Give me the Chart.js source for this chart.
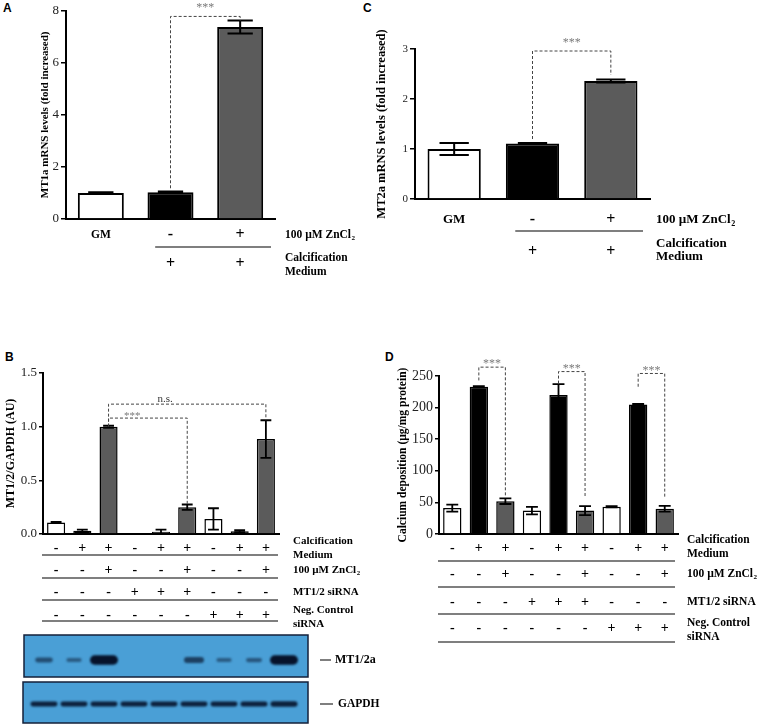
<!DOCTYPE html>
<html>
<head>
<meta charset="utf-8">
<title>MT1/2 expression and calcification</title>
<script src="https://cdn.jsdelivr.net/npm/chart.js@4.4.1/dist/chart.umd.min.js"></script>
<style>
  body { margin: 0; width: 760px; height: 724px; background: #fff; position: relative; overflow: hidden; }
  canvas { position: absolute; }
  .tag { position: absolute; font: bold 12px 'Liberation Sans', Arial, sans-serif; line-height: 12px; }
</style>
</head>
<body>
<div class="tag" style="left:3px;top:2px">A</div>
<div class="tag" style="left:363px;top:2px">C</div>
<div class="tag" style="left:5px;top:351px">B</div>
<div class="tag" style="left:385px;top:351px">D</div>
<canvas id="chartA" width="368" height="300" style="left:0;top:0"></canvas>
<canvas id="chartC" width="392" height="300" style="left:368px;top:0"></canvas>
<canvas id="chartB" width="380" height="394" style="left:0;top:330px"></canvas>
<canvas id="chartD" width="380" height="394" style="left:380px;top:330px"></canvas>
<script>
const SERIF = "'Liberation Serif', 'Times New Roman', serif";

// A: MT1a mRNA, fold increase
const groupsA = ['GM', 'CM', 'CM + ZnCl2'];
const mt1a = [1.0, 1.03, 7.37];
const mt1aErr = [0.03, 0.03, 0.25];
const ticksA = [0, 2, 4, 6, 8];

// C: MT2a mRNA, fold increase
const mt2a = [1.0, 1.11, 2.36];
const mt2aErr = [0.12, 0.01, 0.03];
const ticksC = [0, 1, 2, 3];

// conditions under A and C
const znAC = ['GM', '-', '+'];
const cmAC = ['', '+', '+'];

// B: MT1/2 over GAPDH, 9 lanes
const lanes = ['1', '2', '3', '4', '5', '6', '7', '8', '9'];
const mtRatio = [0.108, 0.03, 1.0, 0.005, 0.02, 0.25, 0.14, 0.025, 0.885];
const mtRatioErr = [0.005, 0.01, 0.01, 0, 0.02, 0.025, 0.1, 0.01, 0.175];
const ticksB = [0, 0.5, 1.0, 1.5];

// D: calcium deposition (µg/mg protein)
const calcium = [41, 233, 52, 37, 220, 37, 43, 205, 40];
const calciumErr = [5.5, 1, 4.5, 6, 17, 7, 1, 1, 4.5];
const ticksD = [0, 50, 100, 150, 200, 250];

// treatment rows under B and D
const rowCM = ['-', '+', '+', '-', '+', '+', '-', '+', '+'];
const rowZn = ['-', '-', '+', '-', '-', '+', '-', '-', '+'];
const rowSi = ['-', '-', '-', '+', '+', '+', '-', '-', '-'];
const rowNeg = ['-', '-', '-', '-', '-', '-', '+', '+', '+'];

// western blot band strength per lane (0..1)
const bandMT = [0.35, 0.2, 1.0, 0, 0, 0.5, 0.2, 0.25, 1.0];
const bandGAPDH = [0.85, 0.85, 0.85, 0.85, 0.85, 0.85, 0.85, 0.9, 1.0];

function fillFor(cm, zn) {
  return cm.map((c, i) => zn[i] === '+' ? '#5b5b5b' : (c === '+' ? '#000' : '#fff'));
}

// extra drawing per canvas (error bars, brackets, condition rows)
const extras = {
  chartA: {
    values: mt1a, errors: mt1aErr, errWidth: 2, capFrac: 0.55,
    brackets: [{ from: 1, to: 2, left: 1.18, top: 7.78, right: 7.62, text: '***', at: 0.5 }],
    gap: 12, starSize: 12, signSize: 16, labelSize: 11.5, labelDx: 10,
    lineFromBar: 1, lineInset: 4,
    rows: [
      { cells: znAC, dy: 16, line: 28, labels: [{ text: '100 µM ZnCl', sub: '2', dy: 16 }] },
      { cells: cmAC, dy: 45, labels: [{ text: 'Calcification', dy: 39 }, { text: 'Medium', dy: 53 }] }
    ]
  },
  chartC: {
    values: mt2a, errors: mt2aErr, errWidth: 2, capFrac: 0.55,
    brackets: [{ from: 1, to: 2, left: 1.2, top: 2.96, right: 2.48, text: '***', at: 0.5 }],
    gap: 11, starSize: 12, signSize: 16, labelSize: 13, labelDx: 6,
    lineFromBar: 1, lineInset: 7,
    rows: [
      { cells: znAC, dy: 21, line: 32, labels: [{ text: '100 µM ZnCl', sub: '2', dy: 21 }] },
      { cells: cmAC, dy: 53, labels: [{ text: 'Calcification', dy: 45 }, { text: 'Medium', dy: 58 }] }
    ]
  },
  chartB: {
    values: mtRatio, errors: mtRatioErr, errWidth: 1.8, capFrac: 0.6,
    brackets: [
      { from: 2, to: 5, left: 1.0, top: 1.08, right: 0.28, text: '***', at: 0.3 },
      { from: 2, to: 8, left: 1.0, top: 1.21, right: 1.06, text: 'n.s.', at: 0.36 }
    ],
    gap: 5, starSize: 11, signSize: 14, labelSize: 11, labelDx: 14, lineInset: 1,
    rows: [
      { cells: rowCM, dy: 14, line: 21, labels: [{ text: 'Calcification', dy: 7 }, { text: 'Medium', dy: 21 }] },
      { cells: rowZn, dy: 36, line: 44, labels: [{ text: '100 µM ZnCl', sub: '2', dy: 36 }] },
      { cells: rowSi, dy: 58, line: 66, labels: [{ text: 'MT1/2 siRNA', dy: 58 }] },
      { cells: rowNeg, dy: 81, line: 87, labels: [{ text: 'Neg. Control', dy: 76 }, { text: 'siRNA', dy: 90 }] }
    ],
    blot: true
  },
  chartD: {
    values: calcium, errors: calciumErr, errWidth: 1.8, capFrac: 0.65,
    brackets: [
      { from: 1, to: 2, left: 243, top: 264, right: 59, text: '***', at: 0.5 },
      { from: 4, to: 5, left: 238, top: 257, right: 59, text: '***', at: 0.5 },
      { from: 7, to: 8, left: 233, top: 254, right: 57, text: '***', at: 0.5 }
    ],
    gap: 6, starSize: 12, signSize: 14, labelSize: 11.5, labelDx: 9, lineInset: 3,
    rows: [
      { cells: rowCM, dy: 14, line: 27, labels: [{ text: 'Calcification', dy: 6 }, { text: 'Medium', dy: 20 }] },
      { cells: rowZn, dy: 40, line: 53, labels: [{ text: '100 µM ZnCl', sub: '2', dy: 40 }] },
      { cells: rowSi, dy: 68, line: 80, labels: [{ text: 'MT1/2 siRNA', dy: 68 }] },
      { cells: rowNeg, dy: 94, line: 108, labels: [{ text: 'Neg. Control', dy: 89 }, { text: 'siRNA', dy: 103 }] }
    ]
  }
};

function boldText(ctx, t, x, y, size) {
  ctx.font = `bold ${size}px ${SERIF}`;
  ctx.fillText(t.text, x, y);
  if (t.sub) {
    const w = ctx.measureText(t.text).width;
    ctx.font = `bold ${size * 0.62}px ${SERIF}`;
    ctx.fillText(t.sub, x + w + 0.5, y + size * 0.3);
  }
}

function band(ctx, cx, cy, w, h, alpha) {
  ctx.save();
  ctx.filter = 'blur(0.9px)';
  ctx.globalAlpha = alpha;
  ctx.fillStyle = '#06122a';
  ctx.beginPath();
  ctx.roundRect(cx - w / 2, cy - h / 2, w, h, h / 2);
  ctx.fill();
  ctx.restore();
}

function drawBlots(ctx) {
  ctx.fillStyle = '#4a9fd6';
  ctx.fillRect(24, 305, 284, 42);
  ctx.fillRect(23, 352, 285, 41);
  ctx.strokeStyle = '#14213a';
  ctx.lineWidth = 1.5;
  ctx.strokeRect(24, 305, 284, 42);
  ctx.strokeRect(23, 352, 285, 41);
  bandMT.forEach((s, i) => {
    if (s < 0.05) return;
    band(ctx, 44 + 30 * i, 330, 12 + 16 * s, 2.5 + 7 * s, 0.35 + 0.65 * s);
  });
  bandGAPDH.forEach((s, i) => {
    band(ctx, 44 + 30 * i, 374, 27, 1 + 4.5 * s, 0.9);
  });
  ctx.strokeStyle = '#000';
  ctx.lineWidth = 1.2;
  ctx.beginPath();
  ctx.moveTo(320, 330); ctx.lineTo(331, 330);
  ctx.moveTo(320, 374); ctx.lineTo(333, 374);
  ctx.stroke();
  ctx.fillStyle = '#000';
  ctx.textAlign = 'left';
  ctx.textBaseline = 'middle';
  boldText(ctx, { text: 'MT1/2a' }, 335, 330, 12);
  boldText(ctx, { text: 'GAPDH' }, 338, 374, 11.5);
}

const panelExtras = {
  id: 'panelExtras',
  afterDatasetsDraw(chart) {
    const e = extras[chart.canvas.id];
    const ctx = chart.ctx, ys = chart.scales.y;
    const bars = chart.getDatasetMeta(0).data;
    ctx.save();
    // error bars
    ctx.strokeStyle = '#000';
    ctx.lineWidth = e.errWidth;
    e.errors.forEach((err, i) => {
      if (!err) return;
      const v = e.values[i], bx = bars[i].x, half = bars[i].width * e.capFrac / 2;
      const hi = ys.getPixelForValue(v + err), lo = ys.getPixelForValue(v - err);
      ctx.beginPath();
      ctx.moveTo(bx, hi); ctx.lineTo(bx, lo);
      ctx.moveTo(bx - half, hi); ctx.lineTo(bx + half, hi);
      ctx.moveTo(bx - half, lo); ctx.lineTo(bx + half, lo);
      ctx.stroke();
    });
    // significance brackets
    e.brackets.forEach(b => {
      const xa = bars[b.from].x, xb = bars[b.to].x;
      const yt = ys.getPixelForValue(b.top);
      ctx.setLineDash([3, 2]);
      ctx.lineWidth = 1;
      ctx.strokeStyle = '#444';
      ctx.beginPath();
      ctx.moveTo(xa, ys.getPixelForValue(b.left));
      ctx.lineTo(xa, yt);
      ctx.lineTo(xb, yt);
      ctx.lineTo(xb, ys.getPixelForValue(b.right));
      ctx.stroke();
      ctx.setLineDash([]);
      const stars = b.text === '***';
      ctx.fillStyle = stars ? '#7a7a7a' : '#333';
      ctx.font = `${stars ? e.starSize : 11}px ${SERIF}`;
      ctx.textAlign = 'center';
      ctx.textBaseline = 'middle';
      ctx.fillText(b.text, xa + (xb - xa) * b.at, yt - e.gap + (stars ? 3 : 0));
    });
    ctx.restore();
  },
  afterDraw(chart) {
    const e = extras[chart.canvas.id];
    const ctx = chart.ctx, area = chart.chartArea;
    const bars = chart.getDatasetMeta(0).data;
    const catW = (area.right - area.left) / bars.length;
    ctx.save();
    ctx.fillStyle = '#000';
    ctx.strokeStyle = '#000';
    ctx.textBaseline = 'middle';
    e.rows.forEach(r => {
      const yy = area.bottom + r.dy;
      ctx.textAlign = 'center';
      r.cells.forEach((c, i) => {
        if (!c) return;
        ctx.font = `bold ${c.length > 1 ? e.labelSize : e.signSize}px ${SERIF}`;
        ctx.fillText(c, bars[i].x, yy);
      });
      if (r.line != null) {
        const x0 = e.lineFromBar == null ? area.left - 1 : bars[e.lineFromBar].x - 0.22 * catW;
        ctx.lineWidth = 1.2;
        ctx.beginPath();
        ctx.moveTo(x0, area.bottom + r.line);
        ctx.lineTo(area.right - e.lineInset, area.bottom + r.line);
        ctx.stroke();
      }
      ctx.textAlign = 'left';
      r.labels.forEach(t => boldText(ctx, t, area.right + e.labelDx, area.bottom + t.dy, e.labelSize));
    });
    if (e.blot) drawBlots(ctx);
    ctx.restore();
  }
};

function makeChart(id, p) {
  return new Chart(document.getElementById(id), {
    type: 'bar',
    data: {
      labels: p.labels,
      datasets: [{
        data: p.values,
        backgroundColor: p.colors,
        borderColor: '#000',
        borderWidth: p.bw,
        barPercentage: p.barPct,
        categoryPercentage: 1
      }]
    },
    options: {
      responsive: false,
      animation: false,
      devicePixelRatio: 1,
      layout: { padding: p.pad },
      plugins: { legend: { display: false }, tooltip: { enabled: false } },
      scales: {
        x: {
          grid: { display: false },
          ticks: { display: false },
          border: { display: true, color: '#000', width: 2 },
          afterFit: s => { s.height = 0; }
        },
        y: {
          min: p.ticks[0],
          max: p.ticks[p.ticks.length - 1],
          afterBuildTicks: s => { s.ticks = p.ticks.map(v => ({ value: v })); },
          afterFit: s => { s.width = p.yWidth; },
          grid: { drawOnChartArea: false, drawTicks: true, tickLength: p.tickLen, color: '#000', lineWidth: 1.5 },
          border: { display: true, color: '#000', width: 2 },
          ticks: {
            font: { family: SERIF, size: p.tickSize },
            color: '#222',
            padding: 2,
            callback: p.fmt || (v => String(v))
          },
          title: {
            display: true,
            text: p.title,
            font: { family: SERIF, size: p.titleSize, weight: 'bold' },
            color: '#000',
            padding: 0
          }
        }
      }
    },
    plugins: [panelExtras]
  });
}

makeChart('chartA', {
  labels: groupsA, values: mt1a, colors: fillFor(cmAC, znAC), bw: 2, barPct: 0.66,
  pad: { left: 38.4, right: 93, top: 10.7, bottom: 81 }, yWidth: 27.6,
  ticks: ticksA, tickLen: 5, tickSize: 13,
  title: 'MT1a mRNS levels (fold increased)', titleSize: 11
});

makeChart('chartC', {
  labels: groupsA, values: mt2a, colors: fillFor(cmAC, znAC), bw: 2, barPct: 0.68,
  pad: { left: 6.5, right: 110, top: 49, bottom: 101 }, yWidth: 40.5,
  ticks: ticksC, tickLen: 5, tickSize: 11,
  title: 'MT2a mRNS levels (fold increased)', titleSize: 12.5
});

makeChart('chartB', {
  labels: lanes, values: mtRatio, colors: fillFor(rowCM, rowZn), bw: 1.5, barPct: 0.69,
  pad: { left: 3.8, right: 101, top: 43, bottom: 190 }, yWidth: 39.2,
  ticks: ticksB, tickLen: 4, tickSize: 13, fmt: v => v.toFixed(1),
  title: 'MT1/2/GAPDH (AU)', titleSize: 12
});

makeChart('chartD', {
  labels: lanes, values: calcium, colors: fillFor(rowCM, rowZn), bw: 1.5, barPct: 0.69,
  pad: { left: 15.8, right: 82, top: 46, bottom: 190 }, yWidth: 43.2,
  ticks: ticksD, tickLen: 4, tickSize: 14,
  title: 'Calcium deposition (µg/mg protein)', titleSize: 11.5
});
</script>
</body>
</html>
